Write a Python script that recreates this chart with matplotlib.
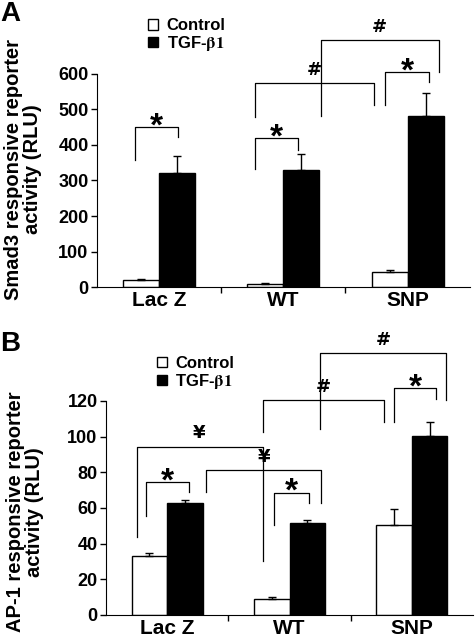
import matplotlib.pyplot as plt
from matplotlib.patches import Patch

plt.rcParams['font.family'] = ['Liberation Sans', 'DejaVu Sans']
plt.rcParams['font.weight'] = 'bold'
plt.rcParams['mathtext.fontset'] = 'stix'

groups = ['Lac Z', 'WT', 'SNP']

# Panel A: Smad3 reporter
smad3_control = [20, 10, 42]
smad3_control_err = [3, 2, 5]
smad3_tgf = [320, 328, 480]
smad3_tgf_err = [48, 45, 65]

# Panel B: AP-1 reporter
ap1_control = [33, 9, 50.5]
ap1_control_err = [1.5, 1, 9]
ap1_tgf = [63, 51.5, 100.5]
ap1_tgf_err = [1.5, 1.5, 7.5]

# significance brackets: (x_left, x_right, top, left_end, right_end, symbol)
brackets_a = [
    (-0.19, 0.15, 450, 358, 422, '*'),
    (0.77, 1.12, 420, 332, 386, '*'),
    (1.82, 2.17, 605, 513, 578, '*'),
    (0.77, 1.73, 574, 479, 513, '#'),
    (1.30, 2.25, 695, 481, 606, '#'),
]
brackets_b = [
    (-0.175, 0.175, 74.4, 55.5, 69, '*'),
    (0.87, 1.16, 68.6, 50.5, 63, '*'),
    (1.85, 2.20, 127, 108.4, 121, '*'),
    (0.32, 1.26, 81.3, 69, 63, '¥'),
    (-0.25, 0.78, 94.4, 43.6, 30.5, '¥'),
    (0.785, 1.77, 120.6, 102.4, 108.4, '#'),
    (1.25, 2.28, 146.8, 104, 120.6, '#'),
]

width = 0.29
fig = plt.figure(figsize=(4.75, 6.41), dpi=100)


def draw_panel(ax, ctrl, ctrl_err, tgf, tgf_err, brackets, ymax, ystep):
    x = range(len(groups))
    xc = [i - width / 2 for i in x]
    xt = [i + width / 2 for i in x]
    ax.bar(xc, ctrl, width, color='white', edgecolor='black', linewidth=1)
    ax.bar(xt, tgf, width, color='black', edgecolor='black', linewidth=1)
    ax.errorbar(xc, ctrl, yerr=[[0] * 3, ctrl_err], fmt='none', ecolor='black',
                elinewidth=1, capsize=3, capthick=1)
    ax.errorbar(xt, tgf, yerr=[[0] * 3, tgf_err], fmt='none', ecolor='black',
                elinewidth=1, capsize=3, capthick=1)
    ax.set_xlim(-0.5, 2.5)
    ax.set_ylim(0, ymax)
    ax.set_yticks(range(0, ymax + 1, ystep))
    ax.tick_params(axis='y', labelsize=13, length=4, width=1, pad=2)
    ax.set_xticks([0.5, 1.5])
    ax.set_xticklabels([])
    ax.set_xticks([0, 1, 2], minor=True)
    ax.set_xticklabels(groups, minor=True, fontsize=15, fontweight='bold')
    ax.tick_params(axis='x', which='minor', length=0, pad=3)
    ax.tick_params(axis='x', which='major', length=4, width=1)
    for lbl in ax.get_yticklabels():
        lbl.set_fontweight('bold')
    ax.spines['top'].set_visible(False)
    ax.spines['right'].set_visible(False)
    for x0, x1, top, l_end, r_end, sym in brackets:
        ax.plot([x0, x0, x1, x1], [l_end, top, top, r_end], color='black',
                linewidth=0.9, clip_on=False)
        if sym == '*':
            ax.annotate(sym, ((x0 + x1) / 2, top), xytext=(0, -6),
                        textcoords='offset points', ha='center', va='baseline',
                        fontsize=24, fontweight='bold', annotation_clip=False)
        else:
            ax.annotate(sym, ((x0 + x1) / 2, top), xytext=(0, 3),
                        textcoords='offset points', ha='center', va='bottom',
                        fontsize=13, fontweight='bold', family=['DejaVu Sans'],
                        annotation_clip=False)
    handles = [Patch(facecolor='white', edgecolor='black', linewidth=1),
               Patch(facecolor='black', edgecolor='black')]
    return handles


ax_a = fig.add_axes([0.204, 0.552, 0.785, 0.333])
h = draw_panel(ax_a, smad3_control, smad3_control_err, smad3_tgf, smad3_tgf_err,
               brackets_a, 600, 100)
fig.legend(h, ['Control', r'TGF-$\mathrm{\beta 1}$'], loc='upper left',
           bbox_to_anchor=(0.298, 0.982), frameon=False, fontsize=12,
           handlelength=0.6, handleheight=0.6, handletextpad=0.5,
           labelspacing=0.05, borderaxespad=0)
fig.text(0.049, 0.736, 'Smad3 responsive reporter\nactivity (RLU)', rotation=90,
         ha='center', va='center', fontsize=14.5, fontweight='bold', linespacing=1.0)

ax_b = fig.add_axes([0.223, 0.0406, 0.773, 0.334])
h = draw_panel(ax_b, ap1_control, ap1_control_err, ap1_tgf, ap1_tgf_err,
               brackets_b, 120, 20)
fig.legend(h, ['Control', r'TGF-$\mathrm{\beta 1}$'], loc='upper left',
           bbox_to_anchor=(0.316, 0.455), frameon=False, fontsize=12,
           handlelength=0.6, handleheight=0.6, handletextpad=0.5,
           labelspacing=0.05, borderaxespad=0)
fig.text(0.052, 0.201, 'AP-1 responsive reporter\nactivity (RLU)', rotation=90,
         ha='center', va='center', fontsize=14.5, fontweight='bold', linespacing=1.0)

fig.text(0.0, 0.999, 'A', fontsize=20, fontweight='bold', ha='left', va='top')
fig.text(0.0, 0.484, 'B', fontsize=20, fontweight='bold', ha='left', va='top')

fig.savefig('out.png', dpi=100)
